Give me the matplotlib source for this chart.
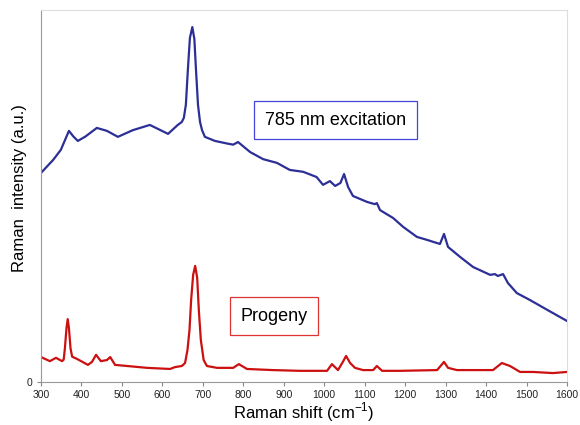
import matplotlib.pyplot as plt

plt.rcParams['font.family'] = ['Liberation Sans', 'DejaVu Sans']
plt.rcParams['mathtext.fontset'] = 'custom'
plt.rcParams['mathtext.rm'] = 'Liberation Sans'

# 785 nm excitation spectrum
blue_x = [300, 330, 349, 369, 380, 391, 410, 438, 463, 490, 527, 569, 614, 638, 648,
          653, 658, 663, 668, 674, 679, 683, 688, 693, 698, 705, 730, 760, 775, 787,
          817, 849, 883, 915, 948, 981, 997, 1014, 1027, 1040, 1049, 1059, 1071, 1106,
          1125, 1130, 1138, 1170, 1195, 1229, 1254, 1286, 1296, 1306, 1336, 1368, 1410,
          1422, 1429, 1442, 1454, 1476, 1509, 1551, 1600]
blue_y = [0.562, 0.597, 0.624, 0.675, 0.660, 0.648, 0.660, 0.683, 0.675, 0.659, 0.677,
          0.691, 0.667, 0.691, 0.699, 0.710, 0.745, 0.840, 0.925, 0.954, 0.922, 0.840,
          0.745, 0.699, 0.677, 0.659, 0.648, 0.641, 0.638, 0.645, 0.618, 0.599, 0.589,
          0.570, 0.565, 0.551, 0.530, 0.540, 0.527, 0.535, 0.559, 0.524, 0.500, 0.484,
          0.478, 0.481, 0.462, 0.441, 0.417, 0.390, 0.382, 0.371, 0.398, 0.363, 0.336,
          0.309, 0.288, 0.290, 0.285, 0.290, 0.266, 0.239, 0.220, 0.194, 0.164]

# Progeny spectrum
red_x = [300, 322, 337, 352, 356, 359, 363, 366, 369, 373, 377, 389, 416, 426, 436,
         448, 463, 471, 483, 513, 562, 619, 631, 648, 656, 662, 667, 671, 676, 681,
         686, 690, 695, 702, 710, 735, 775, 789, 809, 873, 940, 1007, 1019, 1034, 1046,
         1054, 1064, 1076, 1096, 1121, 1130, 1143, 1187, 1279, 1296, 1306, 1328, 1417,
         1439, 1459, 1484, 1516, 1565, 1600]
red_y = [0.067, 0.056, 0.065, 0.056, 0.060, 0.090, 0.145, 0.169, 0.145, 0.090, 0.068,
         0.062, 0.046, 0.054, 0.073, 0.056, 0.059, 0.067, 0.046, 0.043, 0.038, 0.035,
         0.040, 0.043, 0.051, 0.086, 0.140, 0.220, 0.288, 0.312, 0.280, 0.194, 0.113,
         0.059, 0.043, 0.038, 0.038, 0.048, 0.035, 0.032, 0.030, 0.030, 0.048, 0.032,
         0.054, 0.070, 0.051, 0.038, 0.032, 0.032, 0.043, 0.030, 0.030, 0.032, 0.054,
         0.038, 0.032, 0.032, 0.051, 0.043, 0.027, 0.027, 0.024, 0.027]

xticks = list(range(300, 1700, 100))

fig = plt.figure(figsize=(5.8, 4.25), dpi=100)
ax = fig.add_axes([0.0707, 0.1012, 0.9069, 0.8753])

ax.plot(blue_x, blue_y, color='#2b2f96', lw=1.6)
ax.plot(red_x, red_y, color='#cc1010', lw=1.6)

ax.set_xlim(300, 1600)
ax.set_ylim(0, 1)
ax.set_xticks(xticks)
ax.set_yticks([0])
ax.tick_params(axis='both', labelsize=7.5, colors='#888888', labelcolor='#222222',
               length=3, width=0.8, direction='out', pad=3)

for side in ['left', 'bottom']:
    ax.spines[side].set_color('#999999')
for side in ['top', 'right']:
    ax.spines[side].set_color('#dddddd')

ax.set_xlabel('Raman shift (cm$^{\\mathregular{-1}}$)', fontsize=12, labelpad=0)
ax.set_ylabel('Raman  intensity (a.u.)', fontsize=12)
ax.yaxis.set_label_coords(-0.026, 0.52)

ax.text(1027, 0.704, '785 nm excitation', fontsize=13, ha='center', va='center',
        bbox=dict(boxstyle='square,pad=0.6', fc='white', ec='#4444dd', lw=0.9))
ax.text(876, 0.177, 'Progeny', fontsize=13, ha='center', va='center',
        bbox=dict(boxstyle='square,pad=0.6', fc='white', ec='#dd3333', lw=0.9))

fig.savefig('out.png', dpi=100)
